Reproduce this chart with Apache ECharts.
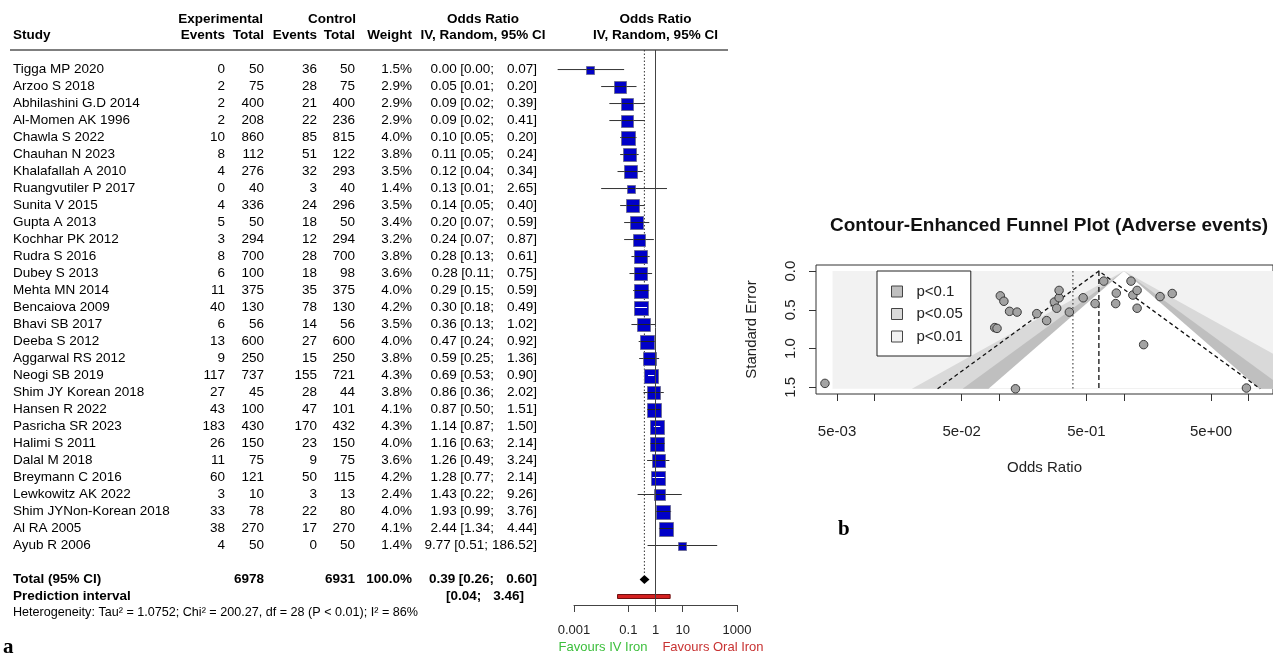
<!DOCTYPE html>
<html>
<head>
<meta charset="utf-8">
<script src="https://cdn.jsdelivr.net/npm/echarts@6/dist/echarts.min.js"></script>
<style>
  html, body { margin: 0; padding: 0; background: #fff; }
  #chart { width: 1273px; height: 656px; }
</style>
</head>
<body>
<div id="chart"></div>
<script>
// forest plot rows
const studies = ['Tigga MP 2020', 'Arzoo S 2018', 'Abhilashini G.D 2014', 'Al-Momen AK 1996', 'Chawla S 2022',
  'Chauhan N 2023', 'Khalafallah A 2010', 'Ruangvutiler P 2017', 'Sunita V 2015', 'Gupta A 2013',
  'Kochhar PK 2012', 'Rudra S 2016', 'Dubey S 2013', 'Mehta MN 2014', 'Bencaiova 2009', 'Bhavi SB 2017',
  'Deeba S 2012', 'Aggarwal RS 2012', 'Neogi SB 2019', 'Shim JY Korean 2018', 'Hansen R 2022',
  'Pasricha SR 2023', 'Halimi S 2011', 'Dalal M 2018', 'Breymann C 2016', 'Lewkowitz AK 2022',
  'Shim JYNon-Korean 2018', 'Al RA 2005', 'Ayub R 2006']
const expEvents = [0, 2, 2, 2, 10, 8, 4, 0, 4, 5, 3, 8, 6, 11, 40, 6, 13, 9, 117, 27, 43, 183, 26, 11, 60, 3, 33, 38, 4]
const expTotal = [50, 75, 400, 208, 860, 112, 276, 40, 336, 50, 294, 700, 100, 375, 130, 56, 600, 250, 737, 45, 100, 430, 150, 75, 121, 10, 78, 270, 50]
const ctrlEvents = [36, 28, 21, 22, 85, 51, 32, 3, 24, 18, 12, 28, 18, 35, 78, 14, 27, 15, 155, 28, 47, 170, 23, 9, 50, 3, 22, 17, 0]
const ctrlTotal = [50, 75, 400, 236, 815, 122, 293, 40, 296, 50, 294, 700, 98, 375, 130, 56, 600, 250, 721, 44, 101, 432, 150, 75, 115, 13, 80, 270, 50]
const weights = [1.5, 2.9, 2.9, 2.9, 4.0, 3.8, 3.5, 1.4, 3.5, 3.4, 3.2, 3.8, 3.6, 4.0, 4.2, 3.5, 4.0, 3.8, 4.3, 3.8, 4.1, 4.3, 4.0, 3.6, 4.2, 2.4, 4.0, 4.1, 1.4]
const orEst = [0.004, 0.05, 0.09, 0.09, 0.10, 0.11, 0.12, 0.13, 0.14, 0.20, 0.24, 0.28, 0.28, 0.29, 0.30, 0.36, 0.47, 0.59, 0.69, 0.86, 0.87, 1.14, 1.16, 1.26, 1.28, 1.43, 1.93, 2.44, 9.77]
const orLo = [0.00025, 0.01, 0.02, 0.02, 0.05, 0.05, 0.04, 0.01, 0.05, 0.07, 0.07, 0.13, 0.11, 0.15, 0.18, 0.13, 0.24, 0.25, 0.53, 0.36, 0.50, 0.87, 0.63, 0.49, 0.77, 0.22, 0.99, 1.34, 0.51]
const orHi = [0.07, 0.20, 0.39, 0.41, 0.20, 0.24, 0.34, 2.65, 0.40, 0.59, 0.87, 0.61, 0.75, 0.59, 0.49, 1.02, 0.92, 1.36, 0.90, 2.02, 1.51, 1.50, 2.14, 3.24, 2.14, 9.26, 3.76, 4.44, 186.52]
// pooled results
const pooled = [0.39, 0.26, 0.60] // est, lo, hi
const predInt = [0.04, 3.46]
const totalWeight = '100.0%'
const heterogeneity = 'Heterogeneity: Tau\u00b2 = 1.0752; Chi\u00b2 = 200.27, df = 28 (P < 0.01); I\u00b2 = 86%'
const forestTicks = [0.001, 0.1, 1, 10, 1000]

// funnel plot
const funnelOR = [0.004, 0.046, 0.092, 0.096, 0.102, 0.109, 0.121, 0.135, 0.139, 0.20, 0.24, 0.277, 0.289, 0.302, 0.302,
  0.365, 0.471, 0.587, 0.689, 0.859, 0.869, 1.14, 1.18, 1.276, 1.276, 1.44, 1.95, 2.44, 9.61]
const funnelSE = [1.45, 0.76, 0.73, 0.74, 0.32, 0.39, 0.52, 1.52, 0.53, 0.55, 0.64, 0.40, 0.48, 0.345, 0.25,
  0.53, 0.345, 0.42, 0.13, 0.42, 0.285, 0.13, 0.31, 0.48, 0.25, 0.95, 0.33, 0.29, 1.51]
const contourNames = ['p<0.1', 'p<0.05', 'p<0.01']
const contourZ = [1.96, 2.576] // outer edge of p<0.1 band, p<0.05 band
const whiteZ = 1.645
const contourX = [0.0046, 16]
const seMax = 1.52
const funnelFixed = 0.63
const funnelRandom = 0.39
const funnelTicks = [0.005, 0.01, 0.05, 0.1, 0.5, 1, 5, 10]
const funnelLabels = [0.005, 0.05, 0.5, 5]
const seTicks = [0, 0.5, 1, 1.5]

const FONT = '"Liberation Sans", Arial, sans-serif'
const FS = 13.5
// table columns (x of text anchor)
const COL = {study: 13, expEv: 225, expTot: 264, ctrlEv: 317, ctrlTot: 355, weight: 412, ciEnd: 537, loEnd: 494}
const TOTAL_ROW = 30
const PRED_ROW = 31

let measureCtx = document.createElement('canvas').getContext('2d')
function textWidth (s, bold) {
  measureCtx.font = (bold ? 'bold ' : '') + FS + 'px ' + FONT
  return measureCtx.measureText(s).width
}

function txt (x, y, text, align, bold, size, color) {
  return {
    type: 'text',
    x: x,
    y: y,
    style: {
      text: String(text),
      textAlign: align,
      textVerticalAlign: 'middle',
      fontFamily: FONT,
      fontSize: size || FS,
      fontWeight: bold ? 'bold' : 'normal',
      fill: color || '#000'
    }
  }
}

function f2 (v) {
  return v.toFixed(2)
}

// "est [lo;  hi]" laid out like the R column
function ciCells (y, est, lo, hi, bold) {
  let hiStr = f2(hi) + ']'
  let loStr = '[' + f2(lo) + ';'
  let loRight = Math.min(COL.loEnd, COL.ciEnd - textWidth(hiStr, bold) - 4)
  let estRight = loRight - textWidth(loStr, bold) - 3.5
  return [
    txt(estRight, y, f2(est), 'right', bold),
    txt(loRight, y, loStr, 'right', bold),
    txt(COL.ciEnd, y, hiStr, 'right', bold)
  ]
}

// one study row of text
function renderTableRow (params, api) {
  let i = params.dataIndex
  let y = api.coord([1, api.value(1)])[1]
  return {
    type: 'group',
    children: [
      txt(COL.study, y, studies[i], 'left'),
      txt(COL.expEv, y, expEvents[i], 'right'),
      txt(COL.expTot, y, expTotal[i], 'right'),
      txt(COL.ctrlEv, y, ctrlEvents[i], 'right'),
      txt(COL.ctrlTot, y, ctrlTotal[i], 'right'),
      txt(COL.weight, y, weights[i].toFixed(1) + '%', 'right')
    ].concat(ciCells(y, orEst[i], orLo[i], orHi[i], false))
  }
}

function renderTotals (params, api) {
  let yt = api.coord([1, TOTAL_ROW])[1]
  let yp = api.coord([1, PRED_ROW])[1]
  let sumE = expTotal.reduce((a, b) => a + b, 0)
  let sumC = ctrlTotal.reduce((a, b) => a + b, 0)
  return {
    type: 'group',
    children: [
      txt(COL.study, yt, 'Total (95% CI)', 'left', true),
      txt(COL.expTot, yt, sumE, 'right', true),
      txt(COL.ctrlTot, yt, sumC, 'right', true),
      txt(COL.weight, yt, totalWeight, 'right', true),
      txt(COL.study, yp, 'Prediction interval', 'left', true),
      txt(446, yp, '[' + f2(predInt[0]) + ';', 'left', true),
      txt(524, yp, f2(predInt[1]) + ']', 'right', true)
    ].concat(ciCells(yt, pooled[0], pooled[1], pooled[2], true))
  }
}

function renderStudy (params, api) {
  let row = api.value(1)
  let pe = api.coord([api.value(0), row])
  let pl = api.coord([api.value(2), row])
  let ph = api.coord([api.value(3), row])
  let s = Math.round(6.9 * Math.sqrt(api.value(4)))
  let sl = Math.round(pe[0] - s / 2) + 0.5
  let st = Math.round(pe[1] - s / 2) + 0.5
  let inside = pl[0] >= sl && ph[0] <= sl + s
  return {
    type: 'group',
    children: [
      {type: 'line', z2: 0, shape: {x1: pl[0], y1: pe[1], x2: ph[0], y2: pe[1]}, style: {stroke: '#333', lineWidth: 1}},
      {type: 'rect', z2: 1, shape: {x: sl, y: st, width: s, height: s}, style: {fill: '#0000c8', stroke: '#6d6d9a', lineWidth: 1}},
      {type: 'line', z2: 2, shape: {x1: Math.max(pl[0], sl), y1: pe[1], x2: Math.min(ph[0], sl + s), y2: pe[1]}, style: {stroke: inside ? '#fff' : '#222', lineWidth: 1}}
    ]
  }
}

function renderDiamond (params, api) {
  let row = api.value(1)
  let c = api.coord([api.value(0), row])
  let l = api.coord([api.value(2), row])
  let r = api.coord([api.value(3), row])
  return {
    type: 'polygon',
    shape: {points: [[l[0], c[1]], [c[0], c[1] - 4.5], [r[0], c[1]], [c[0], c[1] + 4.5]]},
    style: {fill: '#000'}
  }
}

function renderPred (params, api) {
  let row = api.value(1)
  let l = api.coord([api.value(0), row])
  let r = api.coord([api.value(2), row])
  return {
    type: 'rect',
    shape: {x: l[0], y: l[1] - 2, width: r[0] - l[0], height: 4},
    style: {fill: '#d42020', stroke: '#6e1010', lineWidth: 1}
  }
}

// funnel contour triangles around OR = 1
function bandRenderer (z, fill) {
  return function (params, api) {
    let top = api.coord([1, 0])
    let bl = api.coord([Math.exp(-z * seMax), seMax])
    let br = api.coord([Math.exp(z * seMax), seMax])
    return {type: 'polygon', shape: {points: [top, bl, br]}, style: {fill: fill}}
  }
}

function renderBackground (params, api) {
  let a = api.coord([contourX[0], 0])
  let b = api.coord([contourX[1], seMax])
  return {type: 'rect', shape: {x: a[0], y: a[1], width: b[0] - a[0], height: b[1] - a[1]}, style: {fill: '#f2f2f2'}}
}

function renderFunnelLines (params, api) {
  let c = Math.log(funnelFixed)
  let apex = api.coord([funnelFixed, 0])
  let l = api.coord([Math.exp(c - 1.96 * seMax), seMax])
  let r = api.coord([Math.exp(c + 1.96 * seMax), seMax])
  let vb = api.coord([funnelFixed, seMax])
  let rt = api.coord([funnelRandom, 0])
  let rb = api.coord([funnelRandom, seMax])
  return {
    type: 'group',
    children: [
      {type: 'polyline', shape: {points: [l, apex, r]}, style: {stroke: '#111', lineWidth: 1.3, lineDash: [4, 3], fill: null}},
      {type: 'line', shape: {x1: apex[0], y1: apex[1], x2: vb[0], y2: vb[1]}, style: {stroke: '#111', lineWidth: 1.3, lineDash: [5, 3]}},
      {type: 'line', shape: {x1: rt[0], y1: rt[1], x2: rb[0], y2: rb[1]}, style: {stroke: '#222', lineWidth: 1, lineDash: [1.5, 2.5]}}
    ]
  }
}

function fmtE (v) {
  let e = Math.floor(Math.log10(v) + 1e-9)
  let m = Math.round(v / Math.pow(10, e))
  let ae = Math.abs(e)
  return m + 'e' + (e < 0 ? '-' : '+') + (ae < 10 ? '0' : '') + ae
}

let myChart = echarts.init(document.getElementById('chart'))
let option = {
  animation: false,
  backgroundColor: '#fff',
  textStyle: {fontFamily: FONT},
  grid: [
    {left: 574, top: 50, width: 163, height: 555},
    {left: 816, top: 265, width: 460, height: 129, show: true, borderColor: '#333', borderWidth: 1, backgroundColor: 'transparent'}
  ],
  xAxis: [
    {
      gridIndex: 0,
      type: 'log',
      logBase: 10,
      min: 0.001,
      max: 1000,
      axisLine: {onZero: false, lineStyle: {color: '#444', width: 1}},
      axisTick: {customValues: forestTicks, length: 7, lineStyle: {color: '#444'}},
      axisLabel: {customValues: forestTicks, margin: 19, fontSize: 13, color: '#222', formatter: v => String(v)},
      splitLine: {show: false}
    },
    {
      gridIndex: 1,
      type: 'log',
      logBase: 10,
      min: 0.00339,
      max: 15.7,
      name: 'Odds Ratio',
      nameLocation: 'middle',
      nameGap: 66,
      nameTextStyle: {fontSize: 15, color: '#222', fontFamily: FONT},
      axisLine: {show: false, onZero: false},
      axisTick: {customValues: funnelTicks, length: 7, lineStyle: {color: '#333'}},
      axisLabel: {customValues: funnelLabels, margin: 30, fontSize: 15, color: '#222', formatter: fmtE},
      splitLine: {show: false}
    }
  ],
  yAxis: [
    {gridIndex: 0, type: 'value', inverse: true, min: -1.15, max: 31.5, show: false},
    {
      gridIndex: 1,
      type: 'value',
      inverse: true,
      min: -0.078,
      max: 1.587,
      name: 'Standard Error',
      nameLocation: 'middle',
      nameGap: 57,
      nameTextStyle: {fontSize: 15, color: '#222', fontFamily: FONT},
      axisLine: {show: false, onZero: false},
      axisTick: {customValues: seTicks, length: 7, lineStyle: {color: '#333'}},
      axisLabel: {customValues: seTicks, rotate: 90, margin: 18, fontSize: 15, color: '#222', formatter: v => v.toFixed(1)},
      splitLine: {show: false}
    }
  ],
  legend: {
    data: contourNames,
    orient: 'vertical',
    left: 877,
    top: 271,
    padding: [13, 8, 12, 14],
    itemWidth: 11,
    itemHeight: 11,
    itemGap: 7.5,
    selectedMode: false,
    backgroundColor: '#fff',
    borderColor: '#222',
    borderWidth: 1,
    borderRadius: 0,
    icon: 'rect',
    itemStyle: {borderColor: '#444', borderWidth: 1},
    textStyle: {fontSize: 15, color: '#222', fontFamily: FONT, lineHeight: 15, padding: [0, 0, 0, 9]}
  },
  graphic: [
    txt(263, 19, 'Experimental', 'right', true),
    txt(356, 19, 'Control', 'right', true),
    txt(483, 19, 'Odds Ratio', 'center', true),
    txt(655.5, 19, 'Odds Ratio', 'center', true),
    txt(COL.study, 35, 'Study', 'left', true),
    txt(COL.expEv, 35, 'Events', 'right', true),
    txt(COL.expTot, 35, 'Total', 'right', true),
    txt(COL.ctrlEv, 35, 'Events', 'right', true),
    txt(COL.ctrlTot, 35, 'Total', 'right', true),
    txt(COL.weight, 35, 'Weight', 'right', true),
    txt(483, 35, 'IV, Random, 95% CI', 'center', true),
    txt(655.5, 35, 'IV, Random, 95% CI', 'center', true),
    {type: 'line', shape: {x1: 10, y1: 50, x2: 728, y2: 50}, style: {stroke: '#555', lineWidth: 1.5}},
    txt(COL.study, 613, heterogeneity, 'left', false, 12.6),
    txt(603, 647, 'Favours IV Iron', 'center', false, 13, '#3cbf3c'),
    txt(713, 647, 'Favours Oral Iron', 'center', false, 13, '#c83232'),
    {type: 'text', x: 3, y: 648, style: {text: 'a', textVerticalAlign: 'middle', fontFamily: '"Liberation Serif", serif', fontWeight: 'bold', fontSize: 21, fill: '#000'}},
    {type: 'text', x: 838, y: 530, style: {text: 'b', textVerticalAlign: 'middle', fontFamily: '"Liberation Serif", serif', fontWeight: 'bold', fontSize: 21, fill: '#000'}},
    txt(1049, 226, 'Contour-Enhanced Funnel Plot (Adverse events)', 'center', true, 19, '#111')
  ],
  series: [
    {
      type: 'custom',
      name: 'studies',
      xAxisIndex: 0,
      yAxisIndex: 0,
      renderItem: renderStudy,
      encode: {x: 0, y: 1},
      data: studies.map((s, i) => [orEst[i], i, orLo[i], orHi[i], weights[i]]),
      markLine: {
        silent: true,
        symbol: 'none',
        label: {show: false},
        lineStyle: {color: '#444', width: 1, type: 'solid'},
        data: [{xAxis: 1}]
      },
      z: 3
    },
    {
      type: 'line',
      xAxisIndex: 0,
      yAxisIndex: 0,
      showSymbol: false,
      lineStyle: {color: '#333', width: 1, type: [1.5, 2]},
      data: [[pooled[0], -1.15], [pooled[0], TOTAL_ROW - 0.3]],
      z: 2
    },
    {
      type: 'custom',
      xAxisIndex: 0,
      yAxisIndex: 0,
      renderItem: renderTableRow,
      encode: {x: 0, y: 1},
      data: studies.map((s, i) => [1, i])
    },
    {
      type: 'custom',
      xAxisIndex: 0,
      yAxisIndex: 0,
      renderItem: renderTotals,
      encode: {x: 0, y: 1},
      data: [[1, TOTAL_ROW]]
    },
    {
      type: 'custom',
      xAxisIndex: 0,
      yAxisIndex: 0,
      renderItem: renderDiamond,
      encode: {x: 0, y: 1},
      data: [[pooled[0], TOTAL_ROW, pooled[1], pooled[2]]],
      z: 4
    },
    {
      type: 'custom',
      xAxisIndex: 0,
      yAxisIndex: 0,
      renderItem: renderPred,
      encode: {x: 0, y: 1},
      data: [[predInt[0], PRED_ROW, predInt[1]]],
      z: 4
    },
    // funnel contours
    {
      type: 'custom',
      name: contourNames[2],
      xAxisIndex: 1,
      yAxisIndex: 1,
      clip: true,
      renderItem: renderBackground,
      itemStyle: {color: '#f2f2f2', borderColor: '#444', borderWidth: 1},
      data: [[1, 0]],
      z: 1
    },
    {
      type: 'custom',
      name: contourNames[1],
      xAxisIndex: 1,
      yAxisIndex: 1,
      clip: true,
      renderItem: bandRenderer(contourZ[1], '#d9d9d9'),
      itemStyle: {color: '#d9d9d9', borderColor: '#444', borderWidth: 1},
      data: [[1, 0]],
      z: 1
    },
    {
      type: 'custom',
      name: contourNames[0],
      xAxisIndex: 1,
      yAxisIndex: 1,
      clip: true,
      renderItem: bandRenderer(contourZ[0], '#bfbfbf'),
      itemStyle: {color: '#bfbfbf', borderColor: '#444', borderWidth: 1},
      data: [[1, 0]],
      z: 1
    },
    {
      type: 'custom',
      xAxisIndex: 1,
      yAxisIndex: 1,
      clip: true,
      renderItem: bandRenderer(whiteZ, '#ffffff'),
      data: [[1, 0]],
      z: 1
    },
    {
      type: 'custom',
      xAxisIndex: 1,
      yAxisIndex: 1,
      clip: true,
      renderItem: renderFunnelLines,
      data: [[funnelFixed, 0]],
      z: 2
    },
    {
      type: 'scatter',
      xAxisIndex: 1,
      yAxisIndex: 1,
      symbolSize: 8.5,
      itemStyle: {color: '#a3a3a3', borderColor: '#3a3a3a', borderWidth: 1, opacity: 1},
      data: funnelOR.map((v, i) => [v, funnelSE[i]]),
      z: 3
    }
  ]
}
myChart.setOption(option)
</script>
</body>
</html>
